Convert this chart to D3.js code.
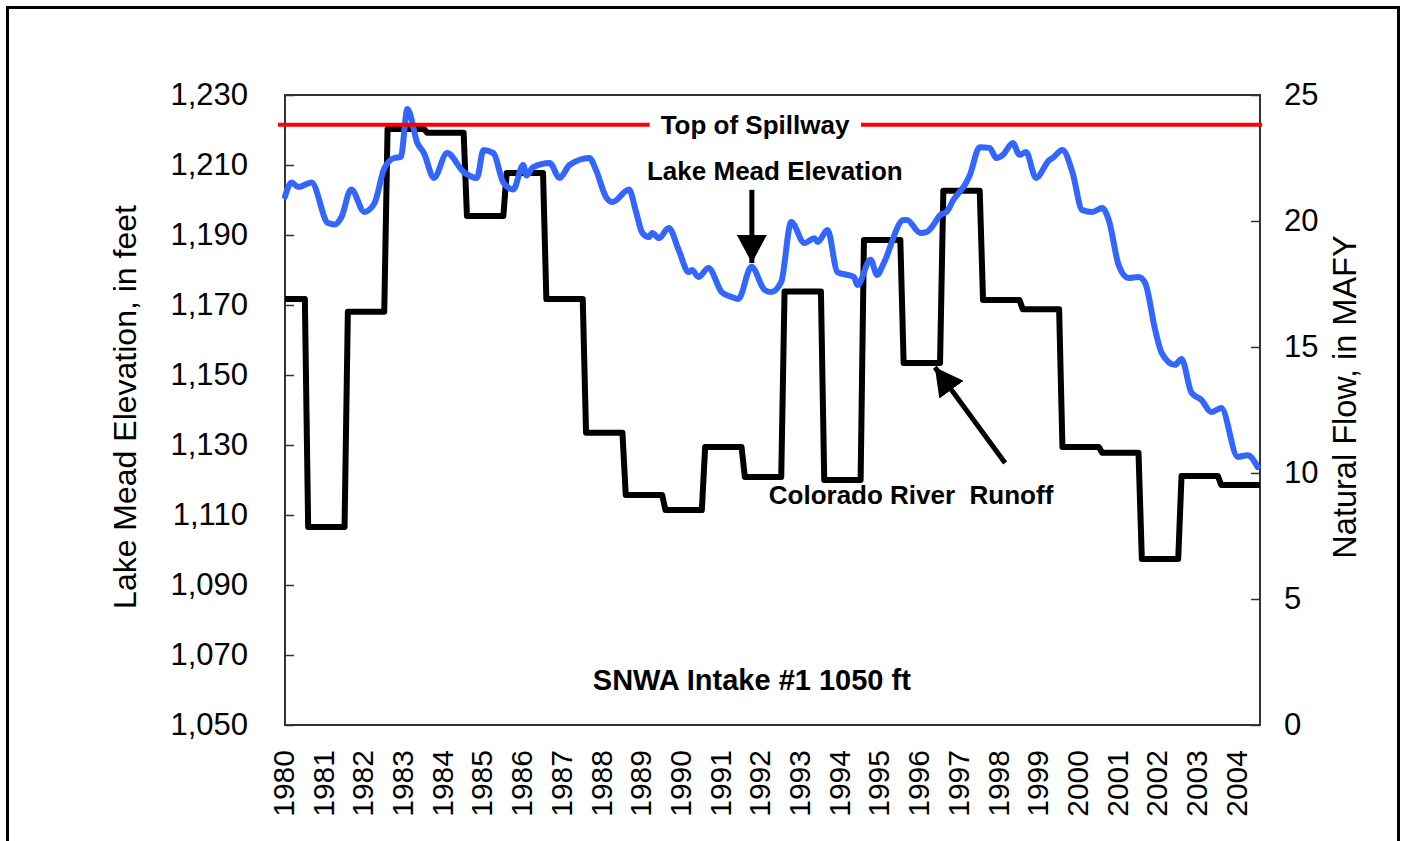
<!DOCTYPE html>
<html>
<head>
<meta charset="utf-8">
<script src="https://cdnjs.cloudflare.com/ajax/libs/d3/7.8.5/d3.min.js"></script>
<style>
  body { margin: 0; background: #fff; }
  text { font-family: "Liberation Sans", Arial, sans-serif; }
</style>
</head>
<body>
<div id="main"></div>
<script>

//=============== DATA ===================
var yearLabels = ["1980","1981","1982","1983","1984","1985","1986","1987","1988","1989","1990","1991",
                  "1992","1993","1994","1995","1996","1997","1998","1999","2000","2001","2002","2003","2004"];
var elevTicks = [1050, 1070, 1090, 1110, 1130, 1150, 1170, 1190, 1210, 1230];
var flowTicks = [0, 5, 10, 15, 20, 25];

// Colorado River natural flow by water year, MAFY
var runoffYears = [1980,1981,1982,1983,1984,1985,1986,1987,1988,1989,1990,1991,
                   1992,1993,1994,1995,1996,1997,1998,1999,2000,2001,2002,2003,2004];
var runoffMafy  = [16.9, 7.86, 16.4, 23.65, 23.5, 20.2, 21.9, 16.9, 11.6, 9.13, 8.53, 11.03,
                   9.84, 17.2, 9.72, 19.25, 14.37, 21.2, 16.87, 16.5, 11.03, 10.8, 6.59, 9.88, 9.52];

// Lake Mead elevation, months since Jan 1980, feet
var elevMonth = [0,2,4,8,13,15,17,20,24,27,30,33,35,37,40,42,45,49,54,58,60,63,66,69,72,73,75,80,83,86,
                 92,94,97,99,104,106,108,110,111,113,116,119,122,123,125,128,132,135,137,141,145,147,150,
                 153,157,160,161,164,167,172,173,177,179,181,187,188,192,194,196,198,200,202,206,207,210,
                 213,215,217,220,222,224,227,231,232,235,238,241,244,247,249,252,255,258,260,263,265,269,
                 271,274,277,280,283,288,291,294];
var elevFeet  = [1201,1205,1203.7,1205,1193.4,1193,1195,1203,1196.6,1199,1209,1212,1212.3,1226,1216.3,1213.4,
                 1206.3,1213.4,1208,1206.3,1214.3,1213.4,1205,1203,1210,1207,1209.4,1210.6,1206.3,1210,
                 1212,1208.6,1200.9,1199.4,1203,1197,1190.6,1189.4,1190.6,1189.1,1192,1185.7,1179.4,1180,
                 1178,1180.6,1173.7,1172.3,1171.7,1180.9,1174.3,1173.7,1176.6,1193.7,1187.7,1189.1,1188,
                 1191.4,1179.4,1178,1175.7,1182.9,1178.6,1182,1194.3,1194.3,1190.6,1190.9,1192.9,1195.7,
                 1196.6,1200,1205.1,1207.1,1215.1,1214.9,1212,1212.9,1216.3,1212.9,1213.7,1206.3,1211.4,
                 1212,1214.3,1208,1197.1,1196.6,1197.7,1194.3,1181.4,1177.7,1178,1176.3,1163,1156.3,
                 1152.9,1154.6,1144.9,1142.9,1139.4,1140.6,1126.6,1127.1,1123.7];

var spillwayFeet = 1221.5;

//=============== LAYOUT ===================
var margin = {top: 95, right: 146, bottom: 116, left: 285},
    width = 1406 - margin.left - margin.right,
    height = 841 - margin.top - margin.bottom,
    tStart = 1980,
    tEnd = 2004.56;

var svg0 = d3.select("#main").append("svg")
    .attr("width", 1406)
    .attr("height", 841);

// outer frame
svg0.append("rect")
    .attr("x", 7.5).attr("y", 7.5)
    .attr("width", 1391).attr("height", 860)
    .attr("fill", "none")
    .attr("stroke", "#000")
    .attr("stroke-width", 3);

var svg = svg0.append("g")
    .attr("transform", "translate(" + margin.left + "," + margin.top + ")");

var x = d3.scaleLinear().domain([tStart, tEnd]).range([0, width]);
var yL = d3.scaleLinear().domain([1050, 1230]).range([height, 0]);
var yR = d3.scaleLinear().domain([0, 25]).range([height, 0]);

//=============== AXES ===================
var gL = svg.append("g")
    .call(d3.axisLeft(yL).tickValues(elevTicks).tickSize(-9).tickPadding(37).tickFormat(d3.format(",")));
var gR = svg.append("g")
    .attr("transform", "translate(" + width + ",0)")
    .call(d3.axisRight(yR).tickValues(flowTicks).tickSize(-9).tickPadding(24));
var gB = svg.append("g")
    .attr("transform", "translate(0," + height + ")")
    .call(d3.axisBottom(x)
        .tickValues(runoffYears)
        .tickSize(0)
        .tickFormat(function(d, i){ return yearLabels[i]; }));

[gL, gR, gB].forEach(function(g){
  g.select(".domain").remove();
  g.selectAll(".tick line").attr("stroke", "#333").attr("stroke-width", 1.5);
  g.selectAll("text")
    .attr("font-size", 31)
    .attr("fill", "#000")
    .attr("font-family", '"Liberation Sans", Arial, sans-serif');
});

gB.selectAll("text")
    .attr("font-size", 30)
    .attr("transform", "rotate(-90)")
    .attr("text-anchor", "end")
    .attr("x", -25)
    .attr("y", -2)
    .attr("dy", "0.35em");

// plot frame
svg.append("rect")
    .attr("width", width).attr("height", height)
    .attr("fill", "none")
    .attr("stroke", "#333")
    .attr("stroke-width", 2);

// axis titles
svg.append("text")
    .attr("transform", "translate(" + (-160) + "," + (height/2 - 3) + ") rotate(-90)")
    .attr("text-anchor", "middle")
    .attr("dy", "0.35em")
    .attr("font-size", 32)
    .text("Lake Mead Elevation, in feet");

svg.append("text")
    .attr("transform", "translate(" + (width + 85) + "," + (height/2 - 13) + ") rotate(-90)")
    .attr("text-anchor", "middle")
    .attr("dy", "0.35em")
    .attr("font-size", 32.5)
    .text("Natural Flow, in MAFY");

//=============== LINES ===================
// runoff: each water year runs from Aug of the previous year to Jul
var runoffPts = [];
runoffYears.forEach(function(yr, i){
  var a = Math.max(tStart, yr - 1 + 7/12),
      b = (i === runoffYears.length - 1) ? tEnd : yr + 0.5;
  runoffPts.push([a, runoffMafy[i]], [b, runoffMafy[i]]);
});

svg.append("path")
    .datum(runoffPts)
    .attr("fill", "none")
    .attr("stroke", "#000")
    .attr("stroke-width", 6)
    .attr("stroke-linejoin", "round")
    .attr("d", d3.line()
        .x(function(d){ return x(d[0]); })
        .y(function(d){ return yR(d[1]); }));

var elevPts = elevMonth.map(function(m, i){ return [tStart + m/12, elevFeet[i]]; });

svg.append("path")
    .datum(elevPts)
    .attr("fill", "none")
    .attr("stroke", "#3366ff")
    .attr("stroke-width", 6)
    .attr("stroke-linejoin", "round")
    .attr("stroke-linecap", "round")
    .attr("d", d3.line()
        .curve(d3.curveMonotoneX)
        .x(function(d){ return x(d[0]); })
        .y(function(d){ return yL(d[1]); }));

// top of spillway
svg.append("line")
    .attr("x1", -7).attr("x2", width + 2)
    .attr("y1", yL(spillwayFeet)).attr("y2", yL(spillwayFeet))
    .attr("stroke", "#ff0000")
    .attr("stroke-width", 4);

//=============== ANNOTATIONS ===================
function label(txt, t, yv, scale, size){
  return svg.append("text")
      .attr("x", x(t)).attr("y", scale(yv))
      .attr("text-anchor", "middle")
      .attr("dy", "0.35em")
      .attr("font-size", size)
      .attr("font-weight", "bold")
      .style("white-space", "pre")
      .text(txt);
}

var spill = label("Top of Spillway", 1991.84, spillwayFeet, yL, 26);
var bb = spill.node().getBBox();
svg.insert("rect", function(){ return spill.node(); })
    .attr("x", bb.x - 11).attr("y", bb.y)
    .attr("width", bb.width + 22).attr("height", bb.height)
    .attr("fill", "#fff");

label("Lake Mead Elevation", 1992.34, 1208.3, yL, 26);
label("Colorado River  Runoff", 1995.77, 9.13, yR, 26);
label("SNWA Intake #1 1050 ft", 1991.76, 1062.9, yL, 29);

svg.append("defs").append("marker")
    .attr("id", "head")
    .attr("markerUnits", "userSpaceOnUse")
    .attr("viewBox", "0 0 28 30")
    .attr("refX", 28).attr("refY", 15)
    .attr("markerWidth", 28).attr("markerHeight", 30)
    .attr("orient", "auto")
  .append("path")
    .attr("d", "M0,0L28,15L0,30Z")
    .attr("fill", "#000");

function arrow(t0, v0, t1, v1, scale){
  svg.append("line")
      .attr("x1", x(t0)).attr("y1", scale(v0))
      .attr("x2", x(t1)).attr("y2", scale(v1))
      .attr("stroke", "#000")
      .attr("stroke-width", 5)
      .attr("marker-end", "url(#head)");
}

arrow(1991.76, 1202.9, 1991.76, 1182, yL);
arrow(1998.14, 10.4, 1996.37, 14.2, yR);

</script>
</body>
</html>
